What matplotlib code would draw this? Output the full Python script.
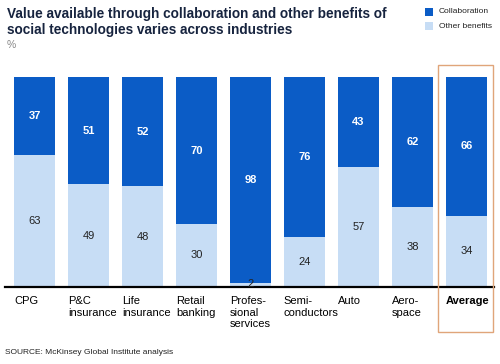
import matplotlib
matplotlib.use("Agg")
import matplotlib.pyplot as plt
from matplotlib.patches import Rectangle
import numpy as np

categories = ["CPG", "P&C\ninsurance", "Life\ninsurance", "Retail\nbanking",
              "Profes-\nsional\nservices", "Semi-\nconductors", "Auto", "Aero-\nspace", "Average"]
other = [63, 49, 48, 30, 2, 24, 57, 38, 34]
collab = [37, 51, 52, 70, 98, 76, 43, 62, 66]

dark = "#0B5CC6"
light = "#C7DDF5"
navy = "#17243F"

W, H = 500, 364
fig = plt.figure(figsize=(W / 100, H / 100), dpi=100)
plt.rcParams['font.family'] = ['Liberation Sans', 'DejaVu Sans']

def fx(px):
    return px / W

def fy(py):
    return 1 - py / H

# axes: x pixel 5..494, y pixel 77..287
x_lo = (5 - 34.5) / 54
x_hi = (494 - 34.5) / 54
ax = fig.add_axes([fx(5), fy(287), fx(494) - fx(5), (287 - 77) / H])
x = np.arange(len(categories))
ax.bar(x, other, width=0.76, color=light, edgecolor="none")
ax.bar(x, collab, bottom=other, width=0.76, color=dark, edgecolor="none")
ax.set_xlim(x_lo, x_hi)
ax.set_ylim(0, 100)
for s in ["top", "right", "left"]:
    ax.spines[s].set_visible(False)
ax.spines["bottom"].set_linewidth(1.6)
ax.spines["bottom"].set_color("black")
ax.set_yticks([])
ax.set_xticks([])

for i in range(len(categories)):
    o, c = other[i], collab[i]
    if o >= 10:
        ax.text(i, o / 2, str(o), ha="center", va="center", fontsize=8, color="#222222")
    else:
        ax.text(i, 1.2, str(o), ha="center", va="center", fontsize=8, color="#222222")
    ax.text(i, o + c / 2, str(c), ha="center", va="center", fontsize=8,
            color="white", fontweight="bold")
    # category label, left-aligned at bar left edge
    ax.text(i - 0.38, -4.5, categories[i], ha="left", va="top", fontsize=8,
            color="black", linespacing=1.15,
            fontweight="bold" if categories[i] == "Average" else "normal",
            transform=ax.transData, clip_on=False)

# Title
fig.text(fx(7), fy(7), "Value available through collaboration and other benefits of\nsocial technologies varies across industries",
         ha="left", va="top", fontsize=9.8, fontweight="bold", color=navy, linespacing=1.15)
fig.text(fx(7), fy(40), "%", ha="left", va="top", fontsize=7.5, color="#888888")

# Legend
fig.patches.append(Rectangle((fx(425), fy(16)), fx(8), 8 / H, transform=fig.transFigure,
                             facecolor=dark, edgecolor="none"))
fig.patches.append(Rectangle((fx(425), fy(30)), fx(8), 8 / H, transform=fig.transFigure,
                             facecolor=light, edgecolor="none"))
fig.text(fx(439), fy(11.5), "Collaboration", ha="left", va="center", fontsize=6, color="#222222")
fig.text(fx(439), fy(26), "Other benefits", ha="left", va="center", fontsize=6, color="#222222")

# Orange highlight box
fig.patches.append(Rectangle((fx(437.5), fy(332)), fx(493 - 437.5), (332 - 65) / H,
                             transform=fig.transFigure, facecolor="none",
                             edgecolor="#E0A57A", linewidth=1.0))

# Source
fig.text(fx(5), fy(352), "SOURCE: McKinsey Global Institute analysis", ha="left", va="center",
         fontsize=6, color="#222222")

fig.savefig("out.png", dpi=100)
